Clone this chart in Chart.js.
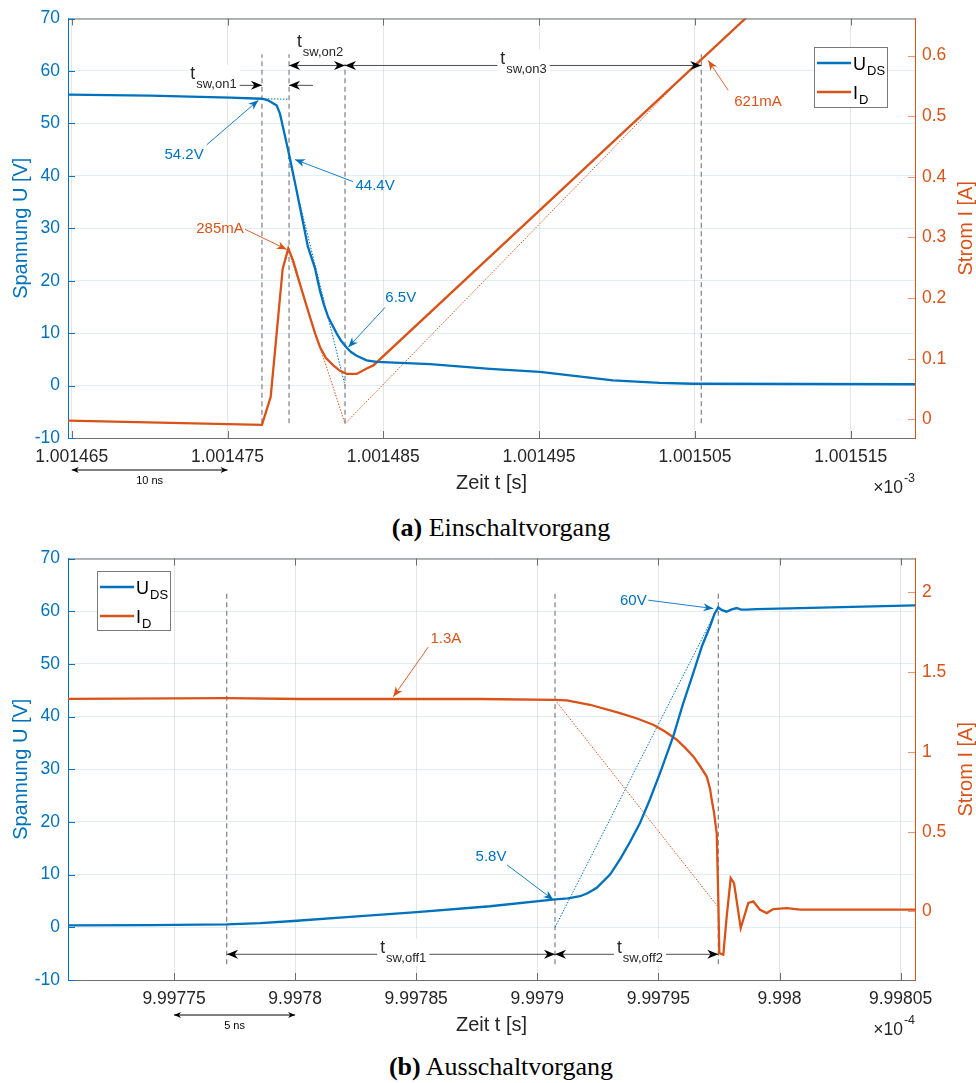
<!DOCTYPE html>
<html>
<head>
<meta charset="utf-8">
<script src="https://cdn.jsdelivr.net/npm/chart.js@4.4.1/dist/chart.umd.min.js"></script>
<style>
  html, body { margin: 0; padding: 0; background: #fff; }
  body { width: 976px; height: 1083px; position: relative; overflow: hidden; }
  canvas { position: absolute; left: 0; }
  #onChart { top: 0; }
  #offChart { top: 540px; }
  .cap { position: absolute; left: 0; width: 1002px; text-align: center; line-height: 30px;
         font-family: "Liberation Serif", "Times New Roman", serif; font-size: 26px; color: #000; }
</style>
</head>
<body>
<canvas id="onChart" width="976" height="510"></canvas>
<div class="cap" style="top:513px"><b>(a)</b> Einschaltvorgang</div>
<canvas id="offChart" width="976" height="512"></canvas>
<div class="cap" style="top:1052px"><b>(b)</b> Ausschaltvorgang</div>
<script>
(() => {
  // *****************Colours / fonts*****************
  const BLUE = "#0072BD", ORANGE = "#D95319", INK = "#262626";
  const FONT = '"Liberation Sans", Arial, Helvetica, sans-serif';
  Chart.defaults.font.family = FONT;

  // *****************Shared left axis*****************
  const U_TICKS = [-10, 0, 10, 20, 30, 40, 50, 60, 70];
  const U_LABELS = ["-10", "0", "10", "20", "30", "40", "50", "60", "70"];

  // *****************(a) Einschaltvorgang, time in 1e-3 s*****************
  const ON_X_TICKS = [1.001465, 1.001475, 1.001485, 1.001495, 1.001505, 1.001515];
  const ON_X_LABELS = ["1.001465", "1.001475", "1.001485", "1.001495", "1.001505", "1.001515"];
  const ON_I_TICKS = [0, 0.1, 0.2, 0.3, 0.4, 0.5, 0.6];
  const ON_I_LABELS = ["0", "0.1", "0.2", "0.3", "0.4", "0.5", "0.6"];

  const ON_T_UDS = [1.00146476, 1.00147003, 1.00147516, 1.00147721, 1.0014776, 1.00147816, 1.00147837,
    1.00147858, 1.00147901, 1.00147933, 1.00147965, 1.00148016, 1.00148062, 1.00148094, 1.00148119,
    1.00148147, 1.00148201, 1.00148228, 1.00148265, 1.00148293, 1.00148329, 1.00148393, 1.00148458,
    1.001488, 1.00149185, 1.00149506, 1.00149974, 1.00150276, 1.00150488, 1.00151913];
  const ON_UDS = [55.5, 55.3, 54.9, 54.7, 54.4, 53.4, 51.8, 49.0, 43.3, 38.7, 34.0, 26.5, 22.3, 18.0,
    15.4, 13.0, 9.9, 8.6, 7.2, 6.4, 5.7, 4.8, 4.5, 4.1, 3.2, 2.6, 1.0, 0.5, 0.35, 0.25];

  const ON_T_ID = [1.00146476, 1.00147721, 1.00147777, 1.00147811, 1.00147854, 1.0014789, 1.00147922,
    1.00147965, 1.0014803, 1.00148062, 1.00148094, 1.00148132, 1.00148179, 1.00148222, 1.00148265,
    1.00148329, 1.00148393, 1.00148436, 1.00151913];
  const ON_ID = [-0.002, -0.009, 0.037, 0.13, 0.248, 0.282, 0.261, 0.223, 0.168, 0.142, 0.119, 0.101,
    0.089, 0.08, 0.075, 0.075, 0.084, 0.089, 0.922];

  // construction lines (dotted)
  const ON_FLAT_T = [1.00147721, 1.00147895];
  const ON_FLAT_U = [54.7, 54.6];
  const ON_FALL_T = [1.00147891, 1.00148254];
  const ON_FALL_U = [43.5, 0];
  const ON_RISE_T = [1.0014789, 1.00148254, 1.00150541];
  const ON_RISE_I = [0.28, -0.007, 0.596];
  // dashed markers
  const ON_MARK_T = [1.00147721, 1.00147895, 1.00148254, 1.00150541];
  const ON_MARK_TOP = [63.2, 63.2, 61.3, 63.2];

  // *****************(b) Ausschaltvorgang, time in 1e-4 s*****************
  const OFF_X_TICKS = [9.99775, 9.9978, 9.99785, 9.9979, 9.99795, 9.998, 9.99805];
  const OFF_X_LABELS = ["9.99775", "9.9978", "9.99785", "9.9979", "9.99795", "9.998", "9.99805"];
  const OFF_I_TICKS = [0, 0.5, 1, 1.5, 2];
  const OFF_I_LABELS = ["0", "0.5", "1", "1.5", "2"];

  const OFF_T_UDS = [9.99770623, 9.99774009, 9.99777176, 9.99778551, 9.99779926, 9.99782267, 9.99785021,
    9.99788047, 9.99790731, 9.99791267, 9.99791763, 9.99792093, 9.99792453, 9.99793002, 9.99793414,
    9.99793827, 9.9979424, 9.99794653, 9.99795107, 9.99795615, 9.99796016, 9.99796441, 9.997968,
    9.9979713, 9.99797316, 9.99797473, 9.99797626, 9.9979782, 9.99797998, 9.99798233, 9.99798411,
    9.99798646, 9.99799059, 9.99800847, 9.99805594];
  const OFF_UDS = [0.38, 0.4, 0.55, 0.8, 1.2, 2.0, 2.9, 4.0, 5.3, 5.5, 5.9, 6.5, 7.5, 10.0, 12.9,
    16.2, 19.8, 24.3, 29.8, 36.3, 42.4, 48.3, 53.4, 57.1, 59.5, 60.7, 60.2, 59.9, 60.3, 60.6, 60.3,
    60.3, 60.4, 60.6, 61.1];

  const OFF_T_ID = [9.99770623, 9.99777176, 9.99780202, 9.99787634, 9.99790731, 9.99791214, 9.99792176,
    9.99793414, 9.99794117, 9.99794789, 9.99795272, 9.99795756, 9.99796098, 9.99796441, 9.99796717,
    9.99796994, 9.9979713, 9.99797201, 9.99797296, 9.99797407, 9.99797473, 9.99797515, 9.9979768,
    9.9979782, 9.99797985, 9.99798122, 9.99798398, 9.99798712, 9.99798919, 9.99799195, 9.99799472,
    9.99799745, 9.99800298, 9.99800847, 9.99805594];
  const OFF_ID = [1.333, 1.338, 1.332, 1.332, 1.327, 1.323, 1.296, 1.244, 1.21, 1.171, 1.128, 1.077,
    1.027, 0.972, 0.912, 0.846, 0.77, 0.7, 0.62, 0.49, 0.073, -0.261, -0.271, -0.031, 0.209, 0.178,
    -0.104, 0.053, 0.063, 0.011, -0.01, 0.015, 0.021, 0.011, 0.011];

  const OFF_RISE_T = [9.99790731, 9.99797432];
  const OFF_RISE_U = [0, 60.5];
  const OFF_FALL_T = [9.99790731, 9.99797473];
  const OFF_FALL_I = [1.327, 0.027];
  const OFF_MARK_T = [9.99777176, 9.99790731, 9.99797473];
  const OFF_MARK_TOP = [63.45, 63.45, 63.45];

  // *****************helpers*****************
  const pts = (xs, ys) => xs.map((x, k) => ({ x: x, y: ys[k] }));

  function arrowHead(ctx, x1, y1, x2, y2, len, half, color) {
    const a = Math.atan2(y2 - y1, x2 - x1), c = Math.cos(a), s = Math.sin(a);
    const bx = x2 - len * c, by = y2 - len * s;
    ctx.beginPath();
    ctx.moveTo(x2, y2);
    ctx.lineTo(bx - half * s, by + half * c);
    ctx.lineTo(x2 - len * 0.7 * c, y2 - len * 0.7 * s);
    ctx.lineTo(bx + half * s, by - half * c);
    ctx.closePath();
    ctx.fillStyle = color;
    ctx.fill();
  }

  function arrow(ctx, x1, y1, x2, y2, o) {
    ctx.save();
    ctx.strokeStyle = o.line;
    ctx.lineWidth = o.width;
    ctx.beginPath();
    ctx.moveTo(x1, y1);
    ctx.lineTo(x2, y2);
    ctx.stroke();
    arrowHead(ctx, x1, y1, x2, y2, o.len, o.half, o.head);
    if (o.both) arrowHead(ctx, x2, y2, x1, y1, o.len, o.half, o.head);
    ctx.restore();
  }

  // text with subscript / superscript
  function subText(ctx, x, y, main, sub, size, subSize, drop, color, align, bg) {
    ctx.save();
    ctx.textBaseline = "alphabetic";
    ctx.textAlign = "left";
    ctx.font = size + "px " + FONT;
    const w1 = ctx.measureText(main).width;
    ctx.font = subSize + "px " + FONT;
    const w2 = sub ? ctx.measureText(sub).width + 1 : 0;
    let x0 = x;
    if (align === "center") x0 = x - (w1 + w2) / 2;
    if (align === "right") x0 = x - (w1 + w2);
    if (bg) {
      ctx.fillStyle = "#fff";
      ctx.fillRect(x0 - 3, y - size * 0.8, w1 + w2 + 6, size * 0.8 + Math.max(drop, 0) + 4);
    }
    ctx.fillStyle = color;
    ctx.font = size + "px " + FONT;
    ctx.fillText(main, x0, y);
    if (sub) {
      ctx.font = subSize + "px " + FONT;
      ctx.fillText(sub, x0 + w1 + 1, y + drop);
    }
    ctx.restore();
  }

  function makeOverlay(cfg) {
    return {
      id: "overlay",
      afterDatasetsDraw(chart) {
        const ctx = chart.ctx, xs = chart.scales.x, ys = chart.scales.y;
        const px = (v) => xs.getPixelForValue(v), py = (v) => ys.getPixelForValue(v);
        const black = { line: "#4d4d4d", width: 1, head: "#000", len: 11, half: 4.5 };
        cfg.spans.forEach((sp) => {
          arrow(ctx, px(sp.from), py(sp.v), px(sp.to), py(sp.v), Object.assign({ both: sp.both }, black));
        });
        cfg.spanLabels.forEach((l) => {
          subText(ctx, px(l.t), py(l.v), "t", l.sub, 17.5, 13, 9, INK, "center", true);
        });
        cfg.notes.forEach((n) => {
          arrow(ctx, px(n.from[0]), py(n.from[1]), px(n.to[0]), py(n.to[1]),
            { line: n.color, width: 0.9, head: n.color, len: 10, half: 4, both: false });
          ctx.save();
          ctx.font = "15px " + FONT;
          ctx.fillStyle = n.color;
          ctx.textAlign = "center";
          ctx.textBaseline = "middle";
          ctx.fillText(n.text, px(n.at[0]), py(n.at[1]));
          ctx.restore();
        });
      },
      afterDraw(chart) {
        const ctx = chart.ctx, a = chart.chartArea;
        const xs = chart.scales.x, ys = chart.scales.y, ys2 = chart.scales.y2;
        ctx.save();
        // box top
        ctx.strokeStyle = "#6e6e6e";
        ctx.lineWidth = 1;
        ctx.beginPath();
        ctx.moveTo(a.left, a.top + 0.5);
        ctx.lineTo(a.right, a.top + 0.5);
        ctx.stroke();
        // inner tick marks
        xs.ticks.forEach((t) => {
          const x = Math.round(xs.getPixelForValue(t.value)) + 0.5;
          ctx.beginPath();
          ctx.moveTo(x, a.bottom); ctx.lineTo(x, a.bottom - 7);
          ctx.moveTo(x, a.top); ctx.lineTo(x, a.top + 7);
          ctx.stroke();
        });
        ctx.strokeStyle = BLUE;
        ys.ticks.forEach((t) => {
          const y = Math.round(ys.getPixelForValue(t.value)) + 0.5;
          ctx.beginPath(); ctx.moveTo(a.left, y); ctx.lineTo(a.left + 7, y); ctx.stroke();
        });
        ctx.strokeStyle = "#e8987a";
        ys2.ticks.forEach((t) => {
          const y = Math.round(ys2.getPixelForValue(t.value)) + 0.5;
          ctx.beginPath(); ctx.moveTo(a.right, y); ctx.lineTo(a.right - 7, y); ctx.stroke();
        });
        // legend
        const L = cfg.legend;
        ctx.fillStyle = "#fff";
        ctx.fillRect(L.x, L.y, L.w, L.h);
        ctx.strokeStyle = "#7a7a7a";
        ctx.strokeRect(L.x + 0.5, L.y + 0.5, L.w, L.h);
        [[BLUE, "U", "DS", 16], [ORANGE, "I", "D", 45]].forEach((it) => {
          ctx.strokeStyle = it[0];
          ctx.lineWidth = 2.3;
          ctx.beginPath();
          ctx.moveTo(L.x + 3, L.y + it[3]);
          ctx.lineTo(L.x + 37, L.y + it[3]);
          ctx.stroke();
          subText(ctx, L.x + 39, L.y + it[3] + 6.5, it[1], it[2], 18, 13, 5, "#000", "left", false);
        });
        // scale bar below axis
        const S = cfg.scaleBar;
        const sx1 = xs.getPixelForValue(S.from), sx2 = xs.getPixelForValue(S.to);
        arrow(ctx, sx1, a.bottom + S.dy, sx2, a.bottom + S.dy,
          { line: "#000", width: 1, head: "#000", len: 7, half: 3, both: true });
        ctx.font = "11px " + FONT;
        ctx.fillStyle = "#000";
        ctx.textAlign = "center";
        ctx.textBaseline = "alphabetic";
        ctx.fillText(S.text, (sx1 + sx2) / 2, a.bottom + S.textDy);
        // exponent
        ctx.font = "12.5px " + FONT;
        const we = ctx.measureText(cfg.exponent).width;
        ctx.fillStyle = INK;
        ctx.textAlign = "left";
        ctx.fillText(cfg.exponent, a.right - we, a.bottom + 44);
        ctx.font = "17.5px " + FONT;
        ctx.textAlign = "right";
        ctx.fillText("\u00d710", a.right - we - 1, a.bottom + 55);
        // right axis title, reads bottom to top
        ctx.translate(chart.width - 10, (a.top + a.bottom) / 2);
        ctx.rotate(-Math.PI / 2);
        ctx.font = "20px " + FONT;
        ctx.fillStyle = ORANGE;
        ctx.textAlign = "center";
        ctx.textBaseline = "middle";
        ctx.fillText("Strom I [A]", 0, 0);
        ctx.restore();
      },
    };
  }

  function buildChart(id, cfg) {
    const thin = (data, color, axis) => ({
      data: data, borderColor: color, borderWidth: 1, borderDash: [1.5, 1.5], yAxisID: axis,
    });
    const datasets = [
      { label: "U_DS", data: pts(cfg.tU, cfg.u), borderColor: BLUE, borderWidth: 2.3, yAxisID: "y" },
      { label: "I_D", data: pts(cfg.tI, cfg.i), borderColor: ORANGE, borderWidth: 2.3, yAxisID: "y2" },
    ];
    cfg.dottedU.forEach((d) => datasets.push(thin(pts(d[0], d[1]), BLUE, "y")));
    cfg.dottedI.forEach((d) => datasets.push(thin(pts(d[0], d[1]), ORANGE, "y2")));
    cfg.marks.forEach((t, k) => {
      datasets.push({
        data: [{ x: t, y: cfg.markBottom }, { x: t, y: cfg.markTop[k] }],
        borderColor: "#7f7f7f", borderWidth: 1.2, borderDash: [5, 3.5], yAxisID: "y",
      });
    });

    return new Chart(document.getElementById(id), {
      type: "line",
      data: { datasets: datasets },
      plugins: [makeOverlay(cfg)],
      options: {
        responsive: false,
        animation: false,
        devicePixelRatio: 1,
        events: [],
        layout: { padding: { top: cfg.padTop, left: 0, right: 0, bottom: 0 } },
        elements: { point: { radius: 0 }, line: { tension: 0, fill: false } },
        plugins: { legend: { display: false }, tooltip: { enabled: false } },
        scales: {
          x: {
            type: "linear", min: cfg.xMin, max: cfg.xMax,
            afterBuildTicks: (s) => { s.ticks = cfg.xTicks.map((v) => ({ value: v })); },
            afterFit: (s) => { s.height = 72; },
            grid: { color: "rgba(0,0,0,0.1)", drawTicks: false },
            border: { color: "#6e6e6e", width: 1 },
            ticks: { color: INK, font: { size: 17.5 }, padding: 9, autoSkip: false, maxRotation: 0,
              callback: (v, i) => cfg.xLabels[i] },
            title: { display: true, text: "Zeit t [s]", color: INK, font: { size: 20 },
              padding: { top: 0, bottom: 15 } },
          },
          y: {
            position: "left", min: -10, max: 70,
            afterBuildTicks: (s) => { s.ticks = U_TICKS.map((v) => ({ value: v })); },
            afterFit: (s) => { s.width = 68; },
            grid: { color: "rgba(0,114,189,0.12)", drawTicks: false },
            border: { color: BLUE, width: 1 },
            ticks: { color: BLUE, font: { size: 17.5 }, padding: 8, autoSkip: false,
              callback: (v, i) => U_LABELS[i] },
            title: { display: true, text: "Spannung U [V]", color: BLUE, font: { size: 20 },
              padding: { top: 9, bottom: 0 } },
          },
          y2: {
            position: "right", min: cfg.iMin, max: cfg.iMax,
            afterBuildTicks: (s) => { s.ticks = cfg.iTicks.map((v) => ({ value: v })); },
            afterFit: (s) => { s.width = 61; },
            grid: { display: false, drawTicks: false },
            border: { color: ORANGE, width: 1 },
            ticks: { color: ORANGE, font: { size: 17.5 }, padding: 7, autoSkip: false,
              callback: (v, i) => cfg.iLabels[i] },
          },
        },
      },
    });
  }

  // **************DISPLAY CHARTS*****************
  buildChart("onChart", {
    padTop: 16,
    xMin: 1.00146476, xMax: 1.00151913, xTicks: ON_X_TICKS, xLabels: ON_X_LABELS,
    iMin: -0.0307, iMax: 0.6611, iTicks: ON_I_TICKS, iLabels: ON_I_LABELS,
    tU: ON_T_UDS, u: ON_UDS, tI: ON_T_ID, i: ON_ID,
    dottedU: [[ON_FLAT_T, ON_FLAT_U], [ON_FALL_T, ON_FALL_U]],
    dottedI: [[ON_RISE_T, ON_RISE_I]],
    marks: ON_MARK_T, markTop: ON_MARK_TOP, markBottom: -7.2,
    spans: [
      { from: 1.00147567, to: 1.00147721, v: 57.25, both: false },
      { from: 1.00148049, to: 1.00147895, v: 57.25, both: false },
      { from: 1.00147895, to: 1.00148254, v: 61.04, both: true },
      { from: 1.00148254, to: 1.00150541, v: 61.04, both: true },
    ],
    spanLabels: [
      { sub: "sw,on1", t: 1.0014741, v: 58.4 },
      { sub: "sw,on2", t: 1.00148094, v: 64.5 },
      { sub: "sw,on3", t: 1.001494, v: 61.38 },
    ],
    notes: [
      { text: "54.2V", color: BLUE, at: [1.00147221, 44.07], from: [1.00147366, 45.9], to: [1.00147698, 54.4] },
      { text: "44.4V", color: BLUE, at: [1.00148447, 38.0], from: [1.00148305, 38.9], to: [1.00147933, 43.1] },
      { text: "285mA", color: ORANGE, at: [1.00147452, 29.8], from: [1.00147612, 29.8], to: [1.0014788, 25.97] },
      { text: "6.5V", color: BLUE, at: [1.00148612, 16.8], from: [1.00148511, 14.9], to: [1.00148275, 7.3] },
      { text: "621mA", color: ORANGE, at: [1.00150905, 54.07], from: [1.00150714, 56.3], to: [1.00150586, 62.0] },
    ],
    legend: { x: 814, y: 47, w: 73, h: 60 },
    scaleBar: { from: 1.001465, to: 1.001475, dy: 32, textDy: 46, text: "10 ns" },
    exponent: "-3",
  });

  buildChart("offChart", {
    padTop: 18,
    xMin: 9.99770623, xMax: 9.99805594, xTicks: OFF_X_TICKS, xLabels: OFF_X_LABELS,
    iMin: -0.4296, iMax: 2.213, iTicks: OFF_I_TICKS, iLabels: OFF_I_LABELS,
    tU: OFF_T_UDS, u: OFF_UDS, tI: OFF_T_ID, i: OFF_ID,
    dottedU: [[OFF_RISE_T, OFF_RISE_U]],
    dottedI: [[OFF_FALL_T, OFF_FALL_I]],
    marks: OFF_MARK_T, markTop: OFF_MARK_TOP, markBottom: -7.0,
    spans: [
      { from: 9.99777188, to: 9.99790731, v: -5.12, both: true },
      { from: 9.99790731, to: 9.99797473, v: -5.12, both: true },
    ],
    spanLabels: [
      { sub: "sw,off1", t: 9.99784467, v: -4.83 },
      { sub: "sw,off2", t: 9.9979424, v: -4.83 },
    ],
    notes: [
      { text: "1.3A", color: ORANGE, at: [9.99786222, 54.8], from: [9.997855, 53.2], to: [9.99784054, 43.75] },
      { text: "60V", color: BLUE, at: [9.99793964, 61.9], from: [9.99794583, 62.09], to: [9.99797267, 60.5] },
      { text: "5.8V", color: BLUE, at: [9.99788088, 13.36], from: [9.99788749, 11.85], to: [9.99790661, 5.21] },
    ],
    legend: { x: 97, y: 31, w: 73, h: 59 },
    scaleBar: { from: 9.99775, to: 9.9978, dy: 35, textDy: 49, text: "5 ns" },
    exponent: "-4",
  });
})();
</script>
</body>
</html>
